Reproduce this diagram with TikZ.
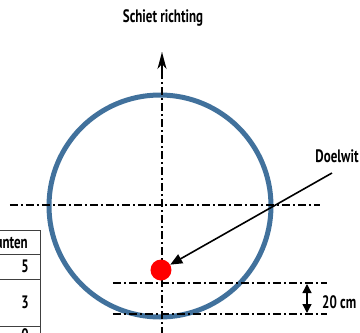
\documentclass[tikz,border=0pt]{standalone}
\usepackage{fontspec}
\newfontfamily\cond[FakeStretch=0.72]{PT Sans}
\usetikzlibrary{arrows.meta}
\definecolor{ringblue}{HTML}{41719C}
\definecolor{dotred}{HTML}{FF0000}
\tikzset{
  axis/.style={line width=1.3pt, dash pattern=on 8pt off 3pt on 2pt off 3pt},
  lbl/.style={font=\cond\bfseries\fontsize{18}{18}\selectfont, inner sep=0pt, text=black},
  tline/.style={line width=0.9pt, draw=black!75},
}
\begin{document}
\begin{tikzpicture}[x=1pt,y=-1pt]
\useasboundingbox (0,0) rectangle (360,333);
\clip (0,0) rectangle (360,333);
% target ring
\node[circle, draw=ringblue, line width=5pt, minimum size=222pt, inner sep=0pt] (ring) at (160,206) {};
% axes
\coordinate (vbot) at (162,335);
\coordinate (vtop) at (162,52);
\draw[axis] (vbot) -- (vtop);
\draw[-{Stealth[length=17pt,width=9pt,inset=5pt]}, line width=1.3pt] (162,74) -- (vtop);
\coordinate (h1l) at (10,205); \coordinate (h1r) at (320,205);
\draw[axis] (h1l) -- (h1r);
\coordinate (h2l) at (113,283); \coordinate (h2r) at (327,283);
\draw[axis] (h2l) -- (h2r);
\coordinate (h3l) at (113,314); \coordinate (h3r) at (327,314);
\draw[axis] (h3l) -- (h3r);
% red target dot
\node[circle, fill=dotred, minimum size=21pt, inner sep=0pt] (dot) at (161,270) {};
% labels
\node[lbl] (schiet) at (163,18) {Schiet richting};
\node[lbl] (doelwit) at (337,156) {Doelwit};
\coordinate (dstart) at (332,173);
\draw[line width=1.6pt, -{Triangle[length=12pt,width=10pt]}] (dstart) -- (dot.30);
% 20 cm
\coordinate (m1) at (307,284); \coordinate (m2) at (307,313);
\draw[line width=1.3pt, {Triangle[length=9pt,width=9pt]}-{Triangle[length=9pt,width=9pt]}] (m1) -- (m2);
\node[lbl, anchor=west] (twenty) at (322,302) {20 cm};
% table
\draw[tline] (-20,230) -- (40,230);
\draw[tline] (-20,254) -- (40,254);
\draw[tline] (-20,279) -- (40,279);
\draw[tline] (-20,326) -- (40,326);
\draw[tline] (40,230) -- (40,340);
\node[lbl, anchor=east] (punten) at (28,242) {Punten};
\node[lbl] (p5) at (25,266) {5};
\node[lbl] (p3) at (25,302) {3};
\node[lbl, anchor=north] (p0) at (25,328) {0};
\end{tikzpicture}
\end{document}
